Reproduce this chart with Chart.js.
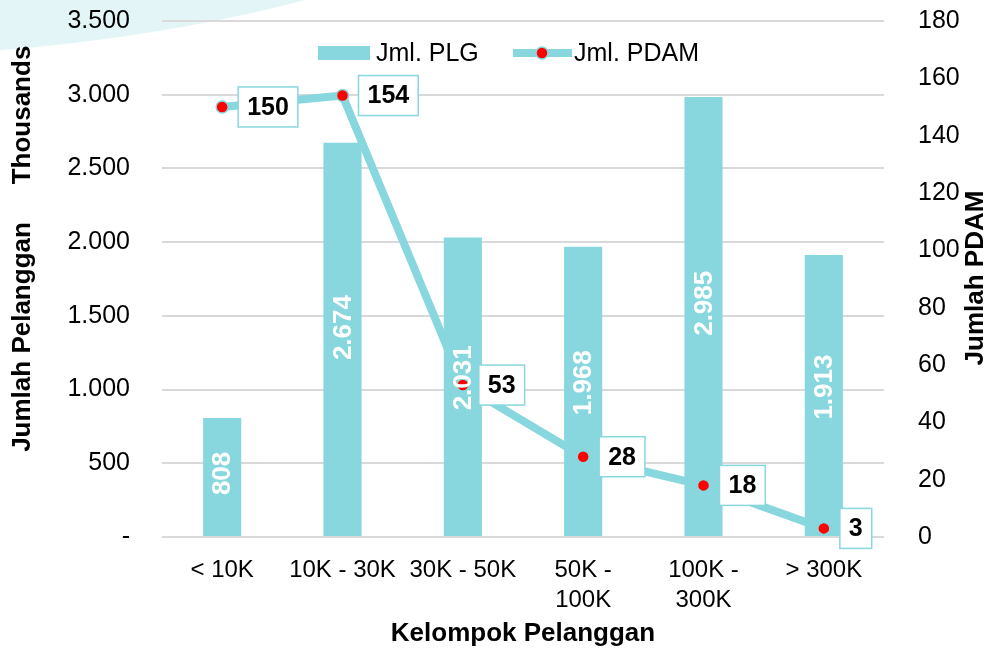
<!DOCTYPE html>
<html>
<head>
<meta charset="utf-8">
<script src="https://cdn.jsdelivr.net/npm/chart.js@4.4.1/dist/chart.umd.min.js"></script>
<style>
  html, body { margin: 0; padding: 0; background: #fff; }
  #wrap { width: 988px; height: 651px; position: relative; }
</style>
</head>
<body>
<div id="wrap"><canvas id="chart"></canvas></div>
<script>
const categories = [['< 10K'], ['10K - 30K'], ['30K - 50K'], ['50K -', '100K'], ['100K -', '300K'], ['> 300K']];
const plgValues = [808, 2674, 2031, 1968, 2985, 1913];   // Jml. PLG (thousands)
const pdamValues = [150, 154, 53, 28, 18, 3];            // Jml. PDAM
const leftRange = { min: 0, max: 3500, step: 500 };
const rightRange = { min: 0, max: 180, step: 20 };

const TEAL = '#88d7de';
const FONT = '"Liberation Sans", Arial, sans-serif';

function fmt(v) {
    return String(v).replace(/\B(?=(\d{3})+(?!\d))/g, '.');
}

// light teal swoosh in the top left corner
const backdrop = {
    id: 'backdrop',
    beforeDraw(chart) {
        const ctx = chart.ctx;
        ctx.save();
        ctx.fillStyle = '#fff';
        ctx.fillRect(0, 0, chart.width, chart.height);
        ctx.fillStyle = '#e3f5f6';
        ctx.beginPath();
        ctx.ellipse(-150, -400, 948, 456, 0, 0, Math.PI * 2);
        ctx.fill();
        ctx.restore();
    }
};

const valueLabels = {
    id: 'valueLabels',
    afterDatasetsDraw(chart) {
        const ctx = chart.ctx;
        ctx.save();
        // bar labels, white, rotated
        chart.getDatasetMeta(0).data.forEach((bar, i) => {
            const y = bar.base - (bar.base - bar.y) * 0.53;
            ctx.save();
            ctx.translate(bar.x, y);
            ctx.rotate(-Math.PI / 2);
            ctx.font = 'bold 26px ' + FONT;
            ctx.fillStyle = '#fff';
            ctx.textAlign = 'center';
            ctx.textBaseline = 'middle';
            ctx.fillText(fmt(chart.data.datasets[0].data[i]), 0, 1);
            ctx.restore();
        });
        // line labels in boxes to the right of the points
        ctx.font = 'bold 25px ' + FONT;
        ctx.textBaseline = 'middle';
        ctx.textAlign = 'left';
        chart.getDatasetMeta(1).data.forEach((pt, i) => {
            const txt = String(chart.data.datasets[1].data[i]);
            const w = ctx.measureText(txt).width + 18;
            const x = pt.x + 16, y = pt.y - 20;
            ctx.fillStyle = '#fff';
            ctx.fillRect(x, y, w, 40);
            ctx.strokeStyle = TEAL;
            ctx.lineWidth = 1.5;
            ctx.strokeRect(x, y, w, 40);
            ctx.fillStyle = '#000';
            ctx.fillText(txt, x + 9, pt.y + 1);
        });
        ctx.restore();
    }
};

const decorations = {
    id: 'decorations',
    afterDraw(chart) {
        const ctx = chart.ctx;
        const ds = chart.data.datasets;
        ctx.save();
        // legend
        ctx.font = '25px ' + FONT;
        ctx.textBaseline = 'middle';
        ctx.textAlign = 'left';
        ctx.fillStyle = TEAL;
        ctx.fillRect(318, 46, 52, 14);
        ctx.fillStyle = '#000';
        ctx.fillText(ds[0].label, 376, 54);
        ctx.strokeStyle = TEAL;
        ctx.lineWidth = 8;
        ctx.beginPath();
        ctx.moveTo(513, 53);
        ctx.lineTo(572, 53);
        ctx.stroke();
        ctx.fillStyle = '#ff0000';
        ctx.strokeStyle = TEAL;
        ctx.lineWidth = 1.5;
        ctx.beginPath();
        ctx.arc(542, 53, 6, 0, Math.PI * 2);
        ctx.fill();
        ctx.stroke();
        ctx.fillStyle = '#000';
        ctx.fillText(ds[1].label, 574, 54);

        // vertical axis titles
        ctx.font = 'bold 26px ' + FONT;
        ctx.textAlign = 'center';
        ctx.fillStyle = '#000';
        const vtext = (t, x, y) => {
            ctx.save();
            ctx.translate(x, y);
            ctx.rotate(-Math.PI / 2);
            ctx.fillText(t, 0, 0);
            ctx.restore();
        };
        vtext('Thousands', 23, 115);
        vtext('Jumlah Pelanggan', 23, 337);
        vtext('Jumlah PDAM', 976, 278);
        ctx.restore();
    }
};

// keep the plot box fixed: no extra room for overhanging tick labels
function noOverhang(scale) {
    scale.paddingTop = 0;
    scale.paddingBottom = 0;
    scale.paddingLeft = 0;
    scale.paddingRight = 0;
}

new Chart(document.getElementById('chart'), {
    type: 'bar',
    data: {
        labels: categories,
        datasets: [
            {
                type: 'bar',
                label: 'Jml. PLG',
                data: plgValues,
                backgroundColor: TEAL,
                yAxisID: 'y',
                barPercentage: 0.317,
                categoryPercentage: 1,
                order: 2
            },
            {
                type: 'line',
                label: 'Jml. PDAM',
                data: pdamValues,
                borderColor: TEAL,
                borderWidth: 8,
                tension: 0,
                pointRadius: 6,
                pointBackgroundColor: '#ff0000',
                pointBorderColor: TEAL,
                pointBorderWidth: 1.5,
                yAxisID: 'y1',
                order: 1
            }
        ]
    },
    options: {
        responsive: true,
        maintainAspectRatio: false,
        animation: false,
        layout: { padding: { top: 21, left: 0, right: 0, bottom: 0 } },
        plugins: {
            legend: { display: false },
            tooltip: { enabled: false }
        },
        scales: {
            x: {
                grid: { display: false, drawTicks: false },
                border: { display: false },
                ticks: {
                    color: '#000',
                    font: { family: FONT, size: 24, lineHeight: 1.25 },
                    padding: 18,
                    maxRotation: 0,
                    autoSkip: false
                },
                title: {
                    display: true,
                    text: 'Kelompok Pelanggan',
                    color: '#000',
                    font: { family: FONT, size: 26, weight: 'bold' },
                    padding: { top: 0, bottom: 2 }
                },
                afterFit(scale) { noOverhang(scale); scale.height = 114; }
            },
            y: {
                position: 'left',
                min: leftRange.min,
                max: leftRange.max,
                grid: { color: '#d9d9d9', lineWidth: 2, drawTicks: false },
                border: { display: false },
                ticks: {
                    stepSize: leftRange.step,
                    color: '#000',
                    font: { family: FONT, size: 25 },
                    padding: 32,
                    callback: v => v === 0 ? '-' : fmt(v)
                },
                afterFit(scale) { noOverhang(scale); scale.width = 162; }
            },
            y1: {
                position: 'right',
                min: rightRange.min,
                max: rightRange.max,
                grid: { display: false, drawTicks: false },
                border: { display: false },
                ticks: {
                    stepSize: rightRange.step,
                    color: '#000',
                    font: { family: FONT, size: 25 },
                    padding: 34
                },
                afterFit(scale) { noOverhang(scale); scale.width = 104; }
            }
        }
    },
    plugins: [backdrop, valueLabels, decorations]
});
</script>
</body>
</html>
